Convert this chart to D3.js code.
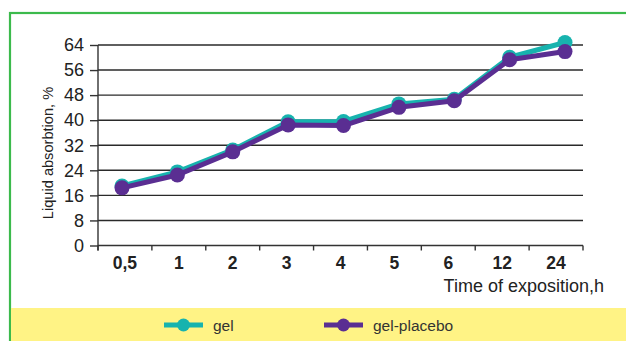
<!DOCTYPE html>
<html>
<head>
<meta charset="utf-8">
<script src="https://cdn.jsdelivr.net/npm/d3@7"></script>
<style>
  html, body { margin: 0; padding: 0; background: #fff; }
  svg { display: block; font-family: "Liberation Sans", Arial, sans-serif; }
</style>
</head>
<body>
<svg id="chart" width="626" height="341"></svg>
<script>
// Exposure times (h) and liquid absorption (%) per formulation
const categories = ["0,5", "1", "2", "3", "4", "5", "6", "12", "24"];
const gel        = [19.0, 23.5, 30.5, 39.5, 39.6, 45.2, 46.7, 60.1, 64.8];
const gelPlacebo = [18.4, 22.5, 29.9, 38.5, 38.3, 44.1, 46.2, 59.3, 61.9];
const yTicks     = [0, 8, 16, 24, 32, 40, 48, 56, 64];
const seriesNames = ["gel", "gel-placebo"];

const colors = { gel: "#17b3ae", placebo: "#5a2e92", frame: "#3cba4c", band: "#fff385" };

const svg = d3.select("#chart");
const W = 626, H = 341;
const plot = { left: 98, right: 583, top: 45, bottom: 245.5 };

// Frame and legend band
svg.append("rect").attr("x", 10).attr("y", 13).attr("width", W).attr("height", H)
  .attr("fill", "none").attr("stroke", colors.frame).attr("stroke-width", 2.2);
svg.append("rect").attr("x", 11).attr("y", 308).attr("width", W - 11).attr("height", H - 308)
  .attr("fill", colors.band);

const x = d3.scaleBand().domain(categories).range([plot.left, plot.right]);
const xPts = d3.scalePoint().domain(categories).range([plot.left + 24, plot.right - 18]);
const y = d3.scaleLinear().domain([0, 64]).range([plot.bottom, plot.top]);

// Horizontal gridlines
svg.append("g").selectAll("line").data(yTicks.filter(t => t > 0)).join("line")
  .attr("x1", plot.left).attr("x2", plot.right)
  .attr("y1", d => y(d)).attr("y2", d => y(d))
  .attr("stroke", "#2a2a2a").attr("stroke-width", 1.4);

// Y axis
const yAxis = svg.append("g").attr("transform", `translate(${plot.left},0)`)
  .call(d3.axisLeft(y).tickValues(yTicks).tickSize(8).tickPadding(6));
yAxis.attr("font-size", null).attr("font-family", null);
yAxis.select(".domain").attr("d", `M0,${plot.top}V${plot.bottom + 5}`).attr("stroke", "#333").attr("stroke-width", 1.4);
yAxis.selectAll(".tick line").attr("stroke", "#333").attr("stroke-width", 1.4);
yAxis.selectAll(".tick text").style("font-size", "18px").attr("fill", "#222");

// X axis with ticks at category boundaries
const xAxis = svg.append("g").attr("transform", `translate(0,${plot.bottom})`);
xAxis.append("line").attr("x1", plot.left).attr("x2", plot.right)
  .attr("stroke", "#333").attr("stroke-width", 1.4);
const bounds = categories.map(c => x(c)).concat([plot.right]);
xAxis.selectAll("line.tk").data(bounds).join("line").attr("class", "tk")
  .attr("x1", d => d).attr("x2", d => d).attr("y1", 0).attr("y2", 5)
  .attr("stroke", "#333").attr("stroke-width", 1.4);
xAxis.selectAll("text").data(categories).join("text")
  .attr("x", d => x(d) + x.bandwidth() / 2).attr("y", 23)
  .attr("text-anchor", "middle").style("font-size", "17.5px").attr("font-weight", "bold")
  .attr("fill", "#222").text(d => d);

// Axis titles
svg.append("text").attr("transform", "translate(53,153) rotate(-90)")
  .attr("text-anchor", "middle").style("font-size", "14.6px").attr("fill", "#222")
  .text("Liquid absorbtion, %");
svg.append("text").attr("x", 604).attr("y", 292).attr("text-anchor", "end")
  .style("font-size", "18px").attr("fill", "#222").text("Time of exposition,h");

// Series
const line = d3.line().x((d, i) => xPts(categories[i])).y(d => y(d));
const series = [
  { name: seriesNames[0], values: gel, color: colors.gel },
  { name: seriesNames[1], values: gelPlacebo, color: colors.placebo }
];
series.forEach(s => {
  const g = svg.append("g");
  g.append("path").datum(s.values).attr("d", line)
    .attr("fill", "none").attr("stroke", s.color).attr("stroke-width", 5)
    .attr("stroke-linejoin", "round");
  g.selectAll("circle").data(s.values).join("circle")
    .attr("cx", (d, i) => xPts(categories[i])).attr("cy", d => y(d))
    .attr("r", 7.5).attr("fill", s.color);
});

// Legend
const legendItems = [
  { name: seriesNames[0], color: colors.gel, x: 164 },
  { name: seriesNames[1], color: colors.placebo, x: 324 }
];
const lg = svg.append("g");
legendItems.forEach(it => {
  lg.append("line").attr("x1", it.x).attr("x2", it.x + 39).attr("y1", 325).attr("y2", 325)
    .attr("stroke", it.color).attr("stroke-width", 5);
  lg.append("circle").attr("cx", it.x + 19.5).attr("cy", 325).attr("r", 6.5).attr("fill", it.color);
  lg.append("text").attr("x", it.x + 49).attr("y", 331).style("font-size", "15.5px")
    .attr("fill", "#333").text(it.name);
});
</script>
</body>
</html>
